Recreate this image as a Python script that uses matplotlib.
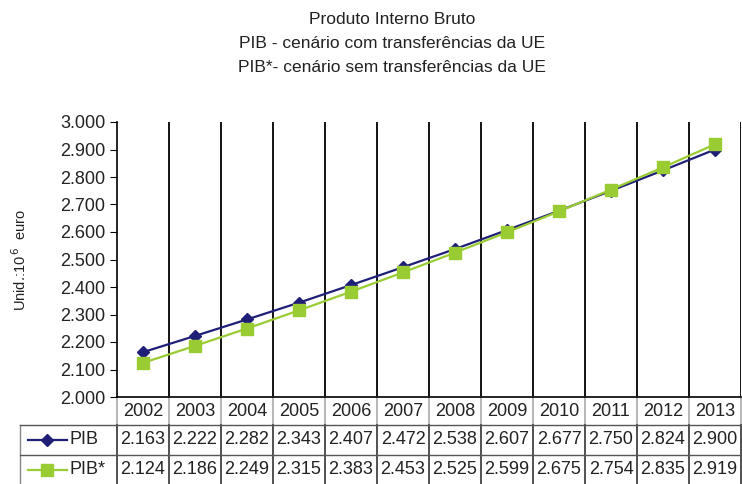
import matplotlib.pyplot as plt
from matplotlib.lines import Line2D
from matplotlib.ticker import FuncFormatter

plt.rcParams['font.family'] = ['Liberation Sans', 'DejaVu Sans']

years = ["2002", "2003", "2004", "2005", "2006", "2007", "2008", "2009",
         "2010", "2011", "2012", "2013"]
pib = [2.163, 2.222, 2.282, 2.343, 2.407, 2.472, 2.538, 2.607, 2.677, 2.750, 2.824, 2.900]
pib_sem = [2.124, 2.186, 2.249, 2.315, 2.383, 2.453, 2.525, 2.599, 2.675, 2.754, 2.835, 2.919]

navy = "#1f1f78"
green = "#99cc33"
text_col = "#222222"

fig = plt.figure(figsize=(7.42, 4.84), dpi=100)
ax = fig.add_axes([117 / 742, 1 - 397 / 484, 624 / 742, 275 / 484])

x = list(range(len(years)))
ax.plot(x, pib, color=navy, lw=1.6, marker="D", ms=6, zorder=3)
ax.plot(x, pib_sem, color=green, lw=1.6, marker="s", ms=9, zorder=4)

ax.set_xlim(-0.5, len(years) - 0.5)
ax.set_ylim(2.0, 3.0)
ax.set_yticks([2.0 + 0.1 * i for i in range(11)])
ax.yaxis.set_major_formatter(FuncFormatter(lambda v, p: f"{v:.3f}"))
ax.tick_params(axis="y", labelsize=13, labelcolor=text_col, color="black", direction="out", length=5)
ax.set_xticks([])
for s in ["top", "right"]:
    ax.spines[s].set_visible(False)
ax.spines["left"].set_linewidth(1.2)
ax.spines["bottom"].set_linewidth(1.2)

# vertical separators between categories
for i in range(len(years)):
    ax.axvline(i + 0.5, color="black", lw=1.3, zorder=1)

ax.set_ylabel("Unid.:10$^{\\,6}$  euro", fontsize=10.5, color=text_col, labelpad=22)

tx = 392 / 742
fig.text(tx, 0.975, "Produto Interno Bruto", ha="center", va="top", fontsize=12.5, color=text_col)
fig.text(tx, 0.925, "PIB - cenário com transferências da UE", ha="center", va="top", fontsize=12.5, color=text_col)
fig.text(tx, 0.875, "PIB*- cenário sem transferências da UE", ha="center", va="top", fontsize=12.5, color=text_col)

# data table under the axis
tr = ax.get_xaxis_transform()
r0, r1, r2, r3 = 0.0, -28 / 275, -58 / 275, -87 / 275
xl = (20 - 117) / 624 * len(years) - 0.5
for i, yr in enumerate(years):
    ax.text(i, (r0 + r1) / 2, yr, transform=tr, ha="center", va="center", fontsize=13, color=text_col, clip_on=False)
    ax.text(i, (r1 + r2) / 2, f"{pib[i]:.3f}", transform=tr, ha="center", va="center", fontsize=13, color=text_col, clip_on=False)
    ax.text(i, (r2 + r3) / 2, f"{pib_sem[i]:.3f}", transform=tr, ha="center", va="center", fontsize=13, color=text_col, clip_on=False)

for i in range(len(years) + 1):
    xv = i - 0.5
    ax.add_line(Line2D([xv, xv], [r0, r1], transform=tr, color="#aaaaaa", lw=1.2, clip_on=False))
    ax.add_line(Line2D([xv, xv], [r1, r3], transform=tr, color="#333333", lw=1.2, clip_on=False))
ax.add_line(Line2D([xl, xl], [r1, r3], transform=tr, color="#888888", lw=1.0, clip_on=False))
for rv in [r1, r2]:
    ax.add_line(Line2D([xl, len(years) - 0.5], [rv, rv], transform=tr, color="#555555", lw=1.0, clip_on=False))

# legend keys in the row label cells
kx0 = xl + 0.15
kx1 = xl + 0.9
for ry, col, mk, ms, lab in [((r1 + r2) / 2, navy, "D", 6, "PIB"), ((r2 + r3) / 2, green, "s", 9, "PIB*")]:
    ax.add_line(Line2D([kx0, kx1], [ry, ry], transform=tr, color=col, lw=1.6, clip_on=False))
    ax.add_line(Line2D([(kx0 + kx1) / 2], [ry], transform=tr, color=col, marker=mk, ms=ms, clip_on=False))
    ax.text(kx1 + 0.06, ry, lab, transform=tr, ha="left", va="center", fontsize=13, color=text_col, clip_on=False)

fig.savefig("out.png", dpi=100)
